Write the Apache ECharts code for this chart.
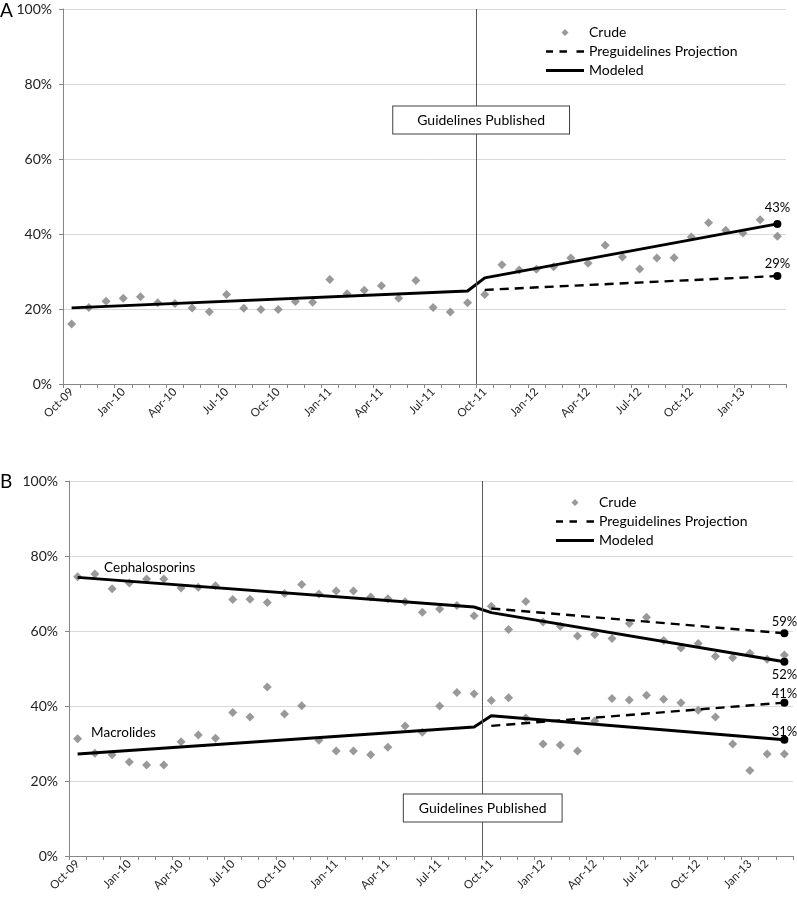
<!DOCTYPE html>
<html><head><meta charset="utf-8">
<script src="https://cdn.jsdelivr.net/npm/echarts/dist/echarts.min.js"></script>
<style>html,body{margin:0;padding:0;background:#fff}#c{width:797px;height:899px}</style>
</head><body><div id="c"></div>
<script>
// ---------- data ----------
const months = ['Oct-09','Nov-09','Dec-09','Jan-10','Feb-10','Mar-10','Apr-10','May-10','Jun-10','Jul-10','Aug-10','Sep-10',
  'Oct-10','Nov-10','Dec-10','Jan-11','Feb-11','Mar-11','Apr-11','May-11','Jun-11','Jul-11','Aug-11','Sep-11',
  'Oct-11','Nov-11','Dec-11','Jan-12','Feb-12','Mar-12','Apr-12','May-12','Jun-12','Jul-12','Aug-12','Sep-12',
  'Oct-12','Nov-12','Dec-12','Jan-13','Feb-13','Mar-13'];
const guidelineIndex = 24; // Oct-11
const guidelineText = 'Guidelines Published';

// Panel A
const aCrude = [16.0,20.4,22.1,22.9,23.3,21.7,21.5,20.3,19.3,23.9,20.2,19.9,19.9,22.0,21.8,27.9,24.1,25.0,26.2,22.9,
  27.6,20.4,19.2,21.7,23.9,31.8,30.4,30.6,31.3,33.6,32.2,37.0,33.9,30.7,33.6,33.7,39.2,43.0,41.0,40.3,43.8,39.4];
const aModeled = [[0,20.3],[23,24.8],[24,28.3],[41,42.7]];
const aProjection = [[24,25.1],[41,28.8]];

// Panel B
const cephCrude = [74.5,75.2,71.3,72.8,73.9,73.9,71.5,71.7,72.1,68.4,68.5,67.6,70.0,72.4,69.9,70.7,70.7,69.1,68.6,67.8,
  65.0,65.9,66.8,64.1,66.6,60.4,67.9,62.4,61.3,58.7,59.1,58.0,62.0,63.7,57.5,55.5,56.7,53.3,52.9,54.1,52.5,53.6];
const cephModeled = [[0,74.3],[23,66.4],[24,64.9],[41,51.8]];
const cephProjection = [[24,66.0],[41,59.4]];

const macroCrude = [31.3,27.4,27.0,25.1,24.3,24.3,30.5,32.3,31.4,38.3,37.1,45.1,37.9,40.1,30.9,28.0,28.0,27.0,29.0,34.7,
  33.0,40.0,43.6,43.3,41.5,42.2,36.8,29.9,29.6,28.0,36.0,42.0,41.6,42.9,41.8,40.9,38.9,37.1,29.9,22.8,27.2,27.2];
const macroModeled = [[0,27.2],[23,34.4],[24,37.4],[41,31.0]];
const macroProjection = [[24,34.7],[41,40.9]];

const yTicks = {min:0, max:100, interval:20};
const legendNames = ['Crude','Preguidelines Projection','Modeled'];

// ---------- styling helpers ----------
const FONT = 'Lato';
const bbox = 'M19,0L19.01,0L19.01,0.01Z M19,8L19.01,8L19.01,7.99Z M0,4L0.01,4L0.01,4.01Z M37.99,4L38,4L38,4.01Z ';
const diamondIcon = 'path://' + bbox + 'M15.5,4L19,0.5L22.5,4L19,7.5Z';
const dashIcon = 'path://' + bbox + 'M0,2.8H7V5.2H0Z M13.5,2.8H21V5.2H13.5Z M30.5,2.8H38V5.2H30.5Z';
const solidIcon = 'path://' + bbox + 'M0,2.6H38V5.4H0Z';

function lineData(pairs, endLabel, startLabel) {
  return pairs.map((p, i) => {
    const item = {value: p};
    if (i === pairs.length - 1) {
      item.symbol = 'circle'; item.symbolSize = 8;
      item.label = Object.assign({show: true, color: '#000', fontSize: 13, fontFamily: FONT,
        formatter: d => Math.round(d.value[1]) + '%'}, endLabel);
    }
    if (i === 0 && startLabel) {
      item.symbol = 'circle'; item.symbolSize = 1;
      item.itemStyle = {color: 'rgba(0,0,0,0)'};
      item.label = Object.assign({show: true, color: '#000', fontSize: 13.5, fontFamily: FONT, position: 'right', distance: 0}, startLabel);
    }
    return item;
  });
}

function crudeSeries(data, gi) {
  return {type: 'scatter', name: 'Crude', xAxisIndex: gi, yAxisIndex: gi, data: data,
    symbol: 'diamond', symbolSize: 9, itemStyle: {color: '#7f7f7f'}, z: 2, silent: true};
}
function modelSeries(name, pairs, gi, dashed, endLabel, startLabel) {
  return {type: 'line', name: name, xAxisIndex: gi, yAxisIndex: gi, data: lineData(pairs, endLabel, startLabel),
    symbol: 'none', showSymbol: true, showAllSymbol: true, silent: true,
    lineStyle: {color: '#000', width: dashed ? 2.4 : 3, type: dashed ? [9, 6] : 'solid', cap: 'butt'},
    itemStyle: {color: '#000'}, z: 3};
}
function guideSeries(gi, boxY, padH, dx) {
  return {type: 'line', name: 'guide' + gi, xAxisIndex: gi + 2, yAxisIndex: gi, data: [], silent: true,
    markLine: {symbol: 'none', silent: true, animation: false, label: {show: false},
      lineStyle: {color: '#595959', width: 1, type: 'solid'}, data: [{xAxis: guidelineIndex}]},
    markPoint: {silent: true, animation: false, symbol: 'circle', symbolSize: 1,
      itemStyle: {color: 'rgba(0,0,0,0)'},
      label: {show: true, position: 'inside', offset: [dx, 0], color: '#000', fontSize: 14, fontFamily: FONT, lineHeight: 15,
        backgroundColor: '#fff', borderColor: '#404040', borderWidth: 1, padding: [6, padH, 6, padH],
        formatter: guidelineText},
      data: [{coord: [guidelineIndex, boxY]}]}};
}
function catAxis(gi) {
  return {type: 'category', gridIndex: gi, data: months, boundaryGap: true,
    axisLine: {lineStyle: {color: '#868686', width: 1}},
    axisTick: {show: true, interval: 0, length: 4, lineStyle: {color: '#868686'}},
    axisLabel: {interval: 2, rotate: 45, fontSize: 11.5, color: '#222', margin: 6, fontFamily: FONT},
    splitLine: {show: false}};
}
function valAxis(gi) {
  return Object.assign({type: 'value', gridIndex: gi,
    axisLabel: {formatter: '{value}%', fontSize: 14, color: '#222', margin: 11, fontFamily: FONT},
    axisLine: {show: true, lineStyle: {color: '#868686'}},
    axisTick: {show: true, length: 4, lineStyle: {color: '#868686'}},
    splitLine: {show: true, lineStyle: {color: '#d9d9d9', width: 1}}}, yTicks);
}
function legend(left, top) {
  return {left: left, top: top, orient: 'vertical', padding: 0, itemWidth: 38, itemHeight: 8, itemGap: 4,
    selectedMode: false, textStyle: {fontSize: 14, color: '#000', fontFamily: FONT, lineHeight: 15},
    data: [{name: legendNames[0], icon: diamondIcon}, {name: legendNames[1], icon: dashIcon}, {name: legendNames[2], icon: solidIcon}]};
}

const option = {
  animation: false,
  textStyle: {fontFamily: FONT},
  title: [
    {text: 'A', left: 0, top: 1, padding: 0, textStyle: {fontSize: 19, fontWeight: 'normal', color: '#000', fontFamily: FONT}},
    {text: 'B', left: 0, top: 472, padding: 0, textStyle: {fontSize: 19, fontWeight: 'normal', color: '#000', fontFamily: FONT}}
  ],
  legend: [legend(546, 25), legend(556, 495)],
  grid: [
    {left: 63, top: 9, width: 723, height: 375, containLabel: false, outerBoundsMode: 'none'},
    {left: 69, top: 481, width: 724, height: 375, containLabel: false, outerBoundsMode: 'none'}
  ],
  xAxis: [catAxis(0), catAxis(1),
    {type: 'value', gridIndex: 0, min: 0, max: months.length, show: false},
    {type: 'value', gridIndex: 1, min: 0, max: months.length, show: false}],
  yAxis: [valAxis(0), valAxis(1)],
  series: [
    crudeSeries(aCrude, 0),
    modelSeries('Preguidelines Projection', aProjection, 0, true, {position: 'top', distance: 2}),
    modelSeries('Modeled', aModeled, 0, false, {position: 'top', distance: 6}),
    guideSeries(0, 70.4, 24, 5),

    crudeSeries(cephCrude, 1),
    crudeSeries(macroCrude, 1),
    modelSeries('Preguidelines Projection', cephProjection, 1, true, {position: 'top', distance: 1}),
    modelSeries('Preguidelines Projection', macroProjection, 1, true, {position: 'top', distance: -2}),
    modelSeries('Modeled', cephModeled, 1, false, {position: 'bottom', distance: 3},
      {formatter: 'Cephalosporins', offset: [26, -10]}),
    modelSeries('Modeled', macroModeled, 1, false, {position: 'top', distance: -3},
      {formatter: 'Macrolides', offset: [13, -21]}),
    guideSeries(1, 12.8, 15, 0)
  ]
};
const chart = echarts.init(document.getElementById('c'), null, {renderer: 'canvas'});
chart.setOption(option);
</script></body></html>
